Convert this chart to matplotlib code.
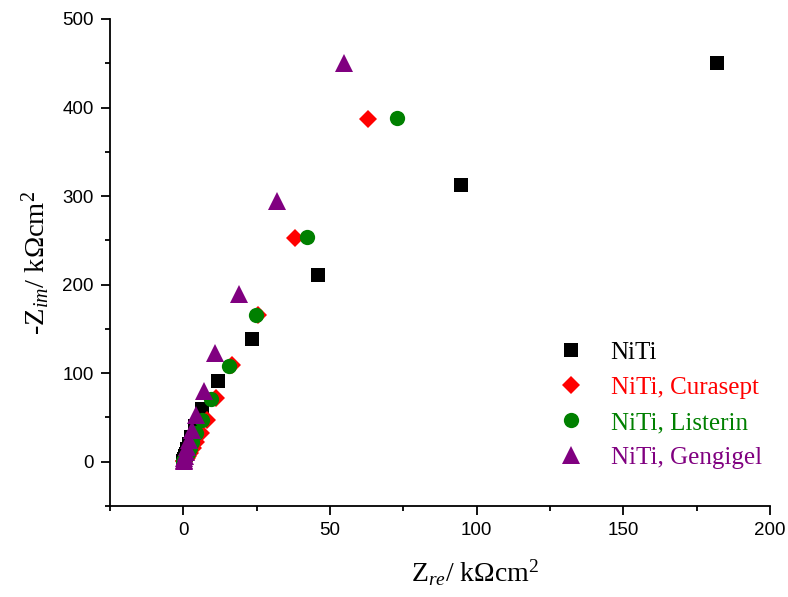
import matplotlib
matplotlib.use("Agg")
import matplotlib.pyplot as plt

plt.rcParams["mathtext.fontset"] = "custom"
plt.rcParams["mathtext.rm"] = "Liberation Serif"
plt.rcParams["mathtext.it"] = "Liberation Serif:italic"

# impedance data, kOhm cm^2
niti_re = [182, 94.7, 46, 23.5, 11.9, 6.5, 4.0, 2.6, 1.8, 1.2, 0.8, 0.5, 0.3, 0.15, 0.05]
niti_im = [450, 312, 211, 139, 91, 59, 40, 28, 20, 14, 9, 6, 3.5, 1.5, 0.5]

cura_re = [63, 38, 25.5, 16.7, 11.2, 8.2, 6.0, 4.4, 3.3, 2.4, 1.7, 1.2, 0.8, 0.5, 0.3, 0.1]
cura_im = [387, 253, 166, 109, 72, 47, 32, 22, 15, 10, 7, 4.5, 3, 1.8, 1, 0.3]

list_re = [72.9, 42.2, 24.9, 15.7, 9.5, 6.2, 4.3, 3.1, 2.2, 1.5, 1.0, 0.6, 0.35, 0.15, 0.05]
list_im = [388, 254, 166, 108, 71, 47, 32, 22, 15, 10, 6.5, 4, 2.2, 1, 0.3]

geng_re = [54.9, 32, 19, 10.9, 7.0, 4.4, 3.0, 2.0, 1.4, 0.9, 0.6, 0.35, 0.2, 0.08]
geng_im = [450, 295, 189, 123, 80, 53, 36, 25, 17, 11, 7, 4, 2, 0.7]

series = [
    ("NiTi", niti_re, niti_im, "s", "black", 10),
    ("NiTi, Curasept", cura_re, cura_im, "D", "red", 9),
    ("NiTi, Listerin", list_re, list_im, "o", "green", 11),
    ("NiTi, Gengigel", geng_re, geng_im, "^", "purple", 13.5),
]

fig = plt.figure(figsize=(7.88, 5.97), dpi=100)
ax = fig.add_axes([0.1396, 0.1524, 0.8374, 0.8158])

for label, x, y, m, c, ms in series:
    ax.plot(x, y, linestyle="none", marker=m, color=c, markersize=ms,
            markeredgewidth=0, label=label)

ax.set_xlim(-25, 200)
ax.set_ylim(-50, 500)
ax.set_xticks([0, 50, 100, 150, 200])
ax.set_xticks([-25, 25, 75, 125, 175], minor=True)
ax.set_yticks([0, 100, 200, 300, 400, 500])
ax.set_yticks([-50, 50, 150, 250, 350, 450], minor=True)

for s in ["top", "right"]:
    ax.spines[s].set_visible(False)
for s in ["left", "bottom"]:
    ax.spines[s].set_linewidth(1.3)

ax.tick_params(which="major", direction="out", length=6.3, width=1.3,
               labelsize=13.5, pad=5.5)
ax.tick_params(which="minor", direction="out", length=3.6, width=1.3)
for t in ax.get_xticklabels() + ax.get_yticklabels():
    t.set_family("Liberation Sans")

ax.set_xlabel(r"Z$_{\mathit{re}}$/ k$\Omega$cm$^{2}$",
              fontsize=20, family="Liberation Serif")
ax.set_ylabel(r"-Z$_{\mathit{im}}$/ k$\Omega$cm$^{2}$",
              fontsize=20.5, family="Liberation Serif")
ax.xaxis.set_label_coords(0.553, -0.105)
ax.yaxis.set_label_coords(-0.088, 0.5)

leg = ax.legend(loc="upper left", bbox_to_anchor=(0.664, 0.358),
                frameon=False, prop={"family": "Liberation Serif", "size": 18},
                handlelength=1.0, handletextpad=1.1, labelspacing=0.5,
                borderpad=0.4, borderaxespad=0)
for txt, (_, _, _, _, c, _) in zip(leg.get_texts(), series):
    txt.set_color(c)

fig.savefig("out.png", dpi=100)
